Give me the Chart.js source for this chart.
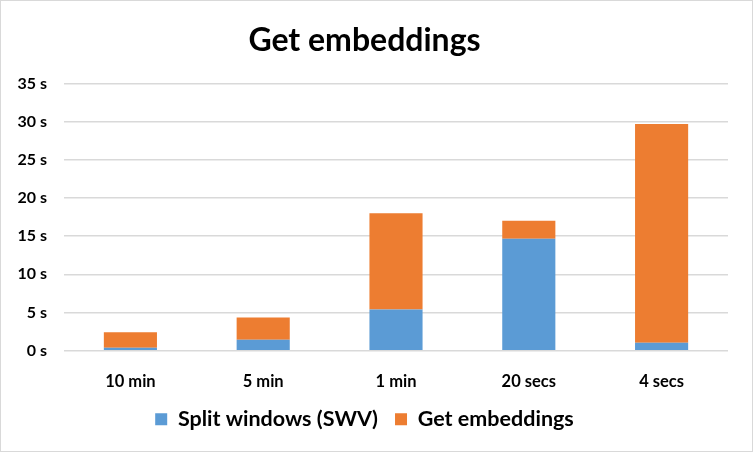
<!DOCTYPE html>
<html><head><meta charset="utf-8">
<script src="https://cdn.jsdelivr.net/npm/chart.js@4/dist/chart.umd.min.js"></script>
<style>
html,body{margin:0;padding:0;background:#fff;}
#wrap{position:absolute;left:0;top:0;width:751px;height:450px;border:1px solid #d9d9d9;}
</style></head>
<body><div id="wrap"><canvas id="c" width="751" height="450"></canvas></div>
<script>
const categories = ["10 min", "5 min", "1 min", "20 secs", "4 secs"];
const splitWindows = [0.4, 1.45, 5.4, 14.65, 1.05];
const getEmbeddings = [2.0, 2.9, 12.6, 2.35, 28.65];
const yTicks = [0, 5, 10, 15, 20, 25, 30, 35];

const FONT = "Lato, 'Open Sans', sans-serif";
new Chart(document.getElementById('c'), {
  type: 'bar',
  data: {
    labels: categories,
    datasets: [
      {label: 'Split windows (SWV)', data: splitWindows, backgroundColor: '#5B9BD5', barPercentage: 0.4, categoryPercentage: 1.0},
      {label: 'Get embeddings', data: getEmbeddings, backgroundColor: '#ED7D31', barPercentage: 0.4, categoryPercentage: 1.0}
    ]
  },
  options: {
    responsive: false,
    animation: false,
    layout: {padding: {left: 0, right: 24, top: 20, bottom: 11}},
    plugins: {
      title: {display: true, text: 'Get embeddings', color: '#000', font: {family: FONT, size: 32, weight: 'bold'}, padding: {top: 0, bottom: 24}},
      legend: {position: 'bottom', labels: {color: '#000', boxWidth: 12, boxHeight: 12, padding: 17, font: {family: FONT, size: 21.5, weight: 'bold'}}},
      tooltip: {enabled: false}
    },
    scales: {
      x: {stacked: true, grid: {display: false, drawTicks: true, tickLength: 21}, border: {display: false},
          ticks: {color: '#000', padding: 0, font: {family: FONT, size: 16.5, weight: 'bold'}}},
      y: {stacked: true, min: 0, max: 35,
          afterFit: s => { s.width = 63; },
          afterBuildTicks: s => { s.ticks = yTicks.map(v => ({value: v})); },
          grid: {color: '#d9d9d9', lineWidth: 1.5, drawTicks: false},
          border: {display: false},
          ticks: {color: '#000', padding: 17, font: {family: FONT, size: 16, weight: 'bold'}, callback: v => v + ' s'}}
    }
  }
});
</script></body></html>
